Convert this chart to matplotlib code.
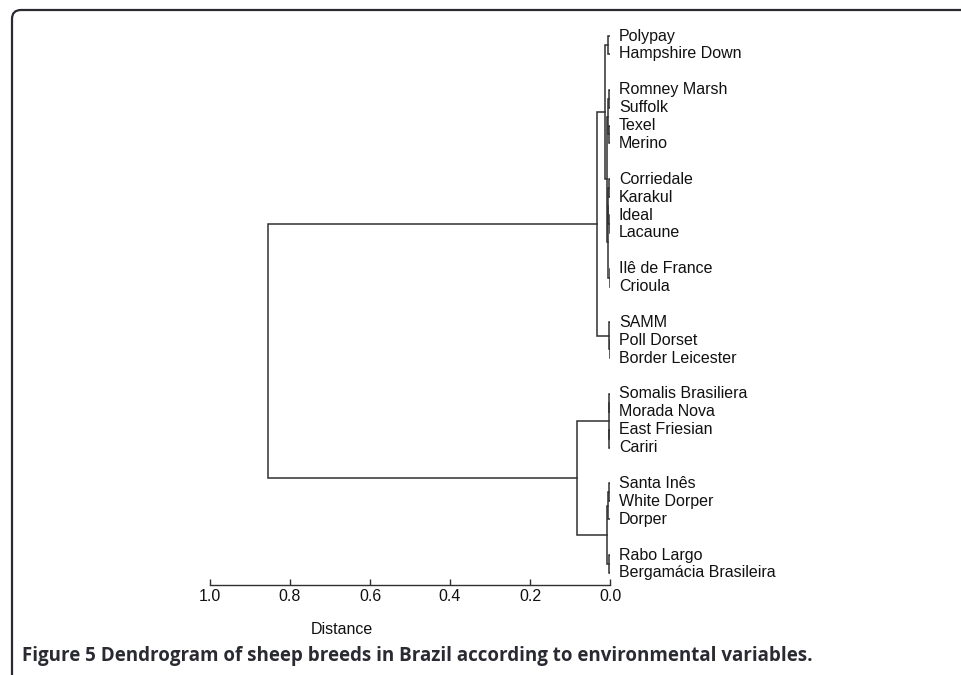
import matplotlib
matplotlib.use("Agg")
import matplotlib.pyplot as plt
from matplotlib.patches import FancyBboxPatch
from matplotlib.transforms import IdentityTransform
import numpy as np

# leaves, top to bottom, in their drawn groups
groups = [
    ["Polypay", "Hampshire Down"],
    ["Romney Marsh", "Suffolk", "Texel", "Merino"],
    ["Corriedale", "Karakul", "Ideal", "Lacaune"],
    ["Ilê de France", "Crioula"],
    ["SAMM", "Poll Dorset", "Border Leicester"],
    ["Somalis Brasiliera", "Morada Nova", "East Friesian", "Cariri"],
    ["Santa Inês", "White Dorper", "Dorper"],
    ["Rabo Largo", "Bergamácia Brasileira"],
]

# merges like a linkage matrix: (node a, node b, distance); new nodes get 24, 25, ...
merges = [
    (0, 1, 0.004),      # 24
    (2, 3, 0.002),      # 25
    (4, 5, 0.002),      # 26
    (25, 26, 0.004),    # 27
    (6, 7, 0.003),      # 28
    (8, 9, 0.001),      # 29
    (28, 29, 0.004),    # 30
    (10, 11, 0.001),    # 31
    (30, 31, 0.005),    # 32
    (27, 32, 0.008),    # 33
    (24, 33, 0.0125),   # 34
    (13, 14, 0.001),    # 35
    (12, 35, 0.003),    # 36
    (34, 36, 0.0325),   # 37
    (15, 16, 0.002),    # 38
    (17, 18, 0.002),    # 39
    (38, 39, 0.003),    # 40
    (19, 20, 0.002),    # 41
    (41, 21, 0.004),    # 42
    (22, 23, 0.003),    # 43
    (42, 43, 0.0075),   # 44
    (40, 44, 0.0825),   # 45
    (37, 45, 0.855),    # 46
]

xticks = [1.0, 0.8, 0.6, 0.4, 0.2, 0.0]
caption_bold = "Figure 5"
caption_rest = " Dendrogram of sheep breeds in Brazil according to environmental variables."

# leaf slots: one empty slot between groups
labels, slots = [], []
s = 0
for g in groups:
    for name in g:
        labels.append(name)
        slots.append(s)
        s += 1
    s += 1

pos = {i: (slots[i], 0.0) for i in range(len(labels))}

W, H = 961, 675
fig = plt.figure(figsize=(W / 100, H / 100), dpi=100)
ax = fig.add_axes([210 / W, 1 - 585 / H, 400 / W, 555 / H])

line_col = "#303030"
lw = 1.1
fs = 11.5
nid = len(labels)
for a, b, h in merges:
    ya, ha = pos[a]
    yb, hb = pos[b]
    ax.plot([ha, h, h, hb], [ya, ya, yb, yb], color=line_col, lw=lw, solid_joinstyle="miter")
    pos[nid] = ((ya + yb) / 2, h)
    nid += 1

for name, y in zip(labels, slots):
    ax.text(-0.022, y, name, ha="left", va="center", fontsize=fs,
            family="Liberation Sans", color="#111111", clip_on=False)

ax.set_xlim(1.0, 0.0)
ax.set_ylim((585 - 36) / 17.9, (30 - 36) / 17.9)
ax.set_xticks(xticks)
ax.set_xticklabels([f"{t:.1f}" for t in xticks], family="Liberation Sans", fontsize=fs, color="#111111")
ax.set_yticks([])
for side in ["top", "right", "left"]:
    ax.spines[side].set_visible(False)
ax.spines["bottom"].set_color(line_col)
ax.spines["bottom"].set_linewidth(1.0)
ax.tick_params(axis="x", direction="in", length=4, width=1.0, color=line_col, pad=3)

fig.text(342 / W, 1 - 630 / H, "Distance", ha="center", va="center", fontsize=fs,
         family="Liberation Sans", color="#111111")

# caption
cap_fs = 13.5
t1 = fig.text(22 / W, 1 - 656 / H, caption_bold, ha="left", va="center", fontsize=cap_fs,
              family="Open Sans", weight="bold", color="#2a2a33")
fig.canvas.draw()
bb = t1.get_window_extent()
fig.text(bb.x1 / W, 1 - 656 / H, caption_rest, ha="left", va="center", fontsize=cap_fs,
         family="Open Sans", weight="bold", color="#2a2a33")

# frame with rounded top-left corner
frame = FancyBboxPatch((12, -40), W + 40, H - 10 + 40, boxstyle="round,pad=0,rounding_size=9",
                       transform=IdentityTransform(), fill=False, edgecolor="#2a2a33", lw=1.6)
fig.patches.append(frame)

fig.savefig("out.png", dpi=100)
